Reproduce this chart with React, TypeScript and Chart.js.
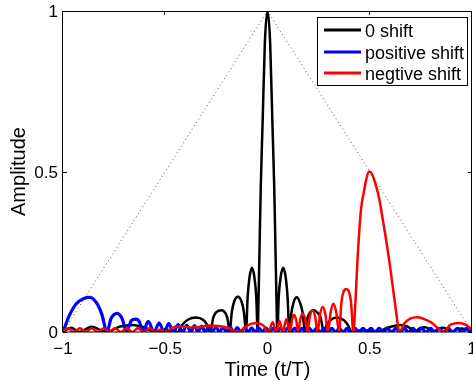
import React, { useEffect, useRef } from 'react';
import { Chart, registerables } from 'chart.js';

Chart.register(...registerables);

const xTicks = [-1, -0.5, 0, 0.5, 1];
const xTickLabels = ['\u22121', '\u22120.5', '0', '0.5', '1'];
const yTicks = [0, 0.5, 1];
const yTickLabels = ['0', '0.5', '1'];
const xTitle = 'Time (t/T)';
const yTitle = 'Amplitude';
const seriesNames = ['0 shift', 'positive shift', 'negtive shift'];
const seriesColors = ['#000000', '#0000ff', '#ff0000'];

const envelopeX = [-1, 0, 1];
const envelopeY = [0, 1, 0];

const zeroShiftX = [
  -1, -0.96, -0.92, -0.86, -0.79, -0.72, -0.66, -0.6, -0.55, -0.5, -0.44,
  -0.42, -0.39, -0.35, -0.315, -0.295, -0.28,
  -0.265, -0.25, -0.225, -0.205, -0.195, -0.185,
  -0.175, -0.163, -0.145, -0.127, -0.115, -0.105,
  -0.097, -0.088, -0.076, -0.064, -0.055, -0.048,
  -0.044, -0.038, -0.033, -0.024, -0.013, 0, 0.013, 0.024, 0.033, 0.038, 0.044,
  0.048, 0.055, 0.064, 0.077, 0.089, 0.098, 0.107,
  0.117, 0.128, 0.143, 0.158, 0.172, 0.183,
  0.195, 0.207, 0.225, 0.245, 0.26, 0.275,
  0.29, 0.31, 0.34, 0.375, 0.395, 0.41,
  0.47, 0.53, 0.59, 0.65, 0.69, 0.72, 0.745, 0.77, 0.79, 0.81, 0.835, 0.86, 0.88, 0.9,
  0.925, 0.95, 0.97, 1,
];
const zeroShiftY = [
  0, 0.013, 0, 0.016, 0, 0.017, 0.022, 0.014, 0, 0.006, 0,
  0.02, 0.038, 0.045, 0.038, 0.022, 0,
  0.045, 0.062, 0.068, 0.058, 0.04, 0,
  0.06, 0.095, 0.11, 0.095, 0.06, 0,
  0.11, 0.17, 0.2, 0.17, 0.11, 0,
  0.1, 0.29, 0.45, 0.65, 0.9, 1, 0.9, 0.65, 0.45, 0.29, 0.1,
  0, 0.11, 0.17, 0.2, 0.17, 0.11, 0,
  0.06, 0.093, 0.108, 0.093, 0.06, 0,
  0.042, 0.06, 0.068, 0.06, 0.045, 0,
  0.022, 0.038, 0.045, 0.036, 0.02, 0,
  0.006, 0, 0.014, 0.022, 0.015, 0, 0.012, 0.015, 0.01, 0, 0.01, 0.013, 0.008, 0,
  0.008, 0.011, 0.008, 0.004,
];

const positiveShiftX = [
  -1, -0.97, -0.935, -0.9, -0.868, -0.835, -0.81, -0.785, -0.765, -0.735, -0.71, -0.69,
  -0.665, -0.645, -0.625, -0.61, -0.583, -0.555, -0.53, -0.505, -0.483, -0.46, -0.437,
  -0.415, -0.395, -0.375, -0.357, -0.34, -0.322, -0.305, -0.288, -0.27, -0.252, -0.235,
  -0.218, -0.2, -0.182, -0.165, -0.148, -0.13, -0.112, -0.095, -0.078, -0.06, -0.043,
  -0.025, -0.008, 0.01, 0.028, 0.045, 0.063, 0.08, 0.098, 0.115, 0.133, 0.15, 0.168,
  0.186, 0.204, 0.222, 0.24, 0.258, 0.277, 0.295, 0.314, 0.332, 0.351, 0.37, 0.389,
  0.408, 0.428, 0.447, 0.467, 0.486, 0.506, 0.526, 0.546, 0.566, 0.587, 0.607, 0.628,
  0.648, 0.669, 0.69, 0.711, 0.732, 0.754, 0.775, 0.797, 0.818, 0.84, 0.862, 0.884,
  0.906, 0.929, 0.951, 0.974, 0.996, 1,
];
const positiveShiftY = [
  0, 0.05, 0.088, 0.104, 0.108, 0.09, 0.055, 0, 0.042, 0.058, 0.04, 0,
  0.036, 0.04, 0.03, 0, 0.033, 0, 0.028, 0, 0.026, 0, 0.023,
  0, 0.021, 0, 0.02, 0, 0.018, 0, 0.017, 0, 0.016, 0,
  0.015, 0, 0.015, 0, 0.014, 0, 0.014, 0, 0.013, 0, 0.013,
  0, 0.013, 0, 0.012, 0, 0.012, 0, 0.012, 0, 0.012, 0, 0.011,
  0, 0.011, 0, 0.011, 0, 0.011, 0, 0.011, 0, 0.011, 0, 0.011,
  0, 0.011, 0, 0.011, 0, 0.011, 0, 0.011, 0, 0.011, 0, 0.011,
  0, 0.011, 0, 0.011, 0, 0.011, 0, 0.011, 0, 0.011, 0, 0.011,
  0, 0.011, 0, 0.011, 0, 0.001,
];

const negativeShiftX = [
  -1, -0.976, -0.947, -0.917, -0.888, -0.86, -0.83, -0.8, -0.773, -0.746, -0.717, -0.688,
  -0.661, -0.634, -0.605, -0.576, -0.547, -0.525, -0.5,
  -0.47, -0.43, -0.36, -0.28, -0.2, -0.14, -0.1, -0.055, -0.02, 0.005,
  0.025, 0.044, 0.058, 0.075, 0.092, 0.11,
  0.12, 0.13, 0.14, 0.15, 0.161, 0.172, 0.184, 0.195,
  0.207, 0.22, 0.233, 0.245, 0.257, 0.27, 0.283, 0.295,
  0.309, 0.322, 0.336, 0.35, 0.362, 0.386, 0.408, 0.42,
  0.428, 0.44, 0.457, 0.47, 0.498, 0.54, 0.556, 0.595, 0.628, 0.645,
  0.67, 0.73, 0.8, 0.865, 0.89, 0.937, 0.97, 1,
];
const negativeShiftY = [
  0.004, 0.012, 0, 0.012, 0, 0.012, 0, 0.012, 0, 0.012, 0, 0.012,
  0, 0.012, 0, 0.012, 0, 0.008, 0,
  0.012, 0.018, 0.014, 0.02, 0.014, 0, 0.02, 0.028, 0.02, 0,
  0.03, 0, 0.035, 0, 0.04, 0,
  0.038, 0.053, 0.038, 0, 0.041, 0.058, 0.041, 0,
  0.048, 0.068, 0.048, 0, 0.055, 0.078, 0.055, 0,
  0.062, 0.088, 0.062, 0, 0.095, 0.134, 0.095, 0,
  0.068, 0.224, 0.38, 0.433, 0.5, 0.433, 0.38, 0.224, 0.068, 0,
  0.028, 0.046, 0.03, 0, 0.02, 0.028, 0.022, 0.008,
];

const toPoints = (xs: number[], ys: number[]) => xs.map((x, i) => ({ x, y: ys[i] }));

const FONT = '"Liberation Sans", Arial, Helvetica, sans-serif';

const framePlugin = {
  id: 'matlabFrame',
  afterDatasetsDraw(chart: any) {
    const { ctx, chartArea: a, scales } = chart;
    const sx = scales.x;
    const sy = scales.y;
    ctx.save();
    ctx.strokeStyle = '#000';
    ctx.lineWidth = 1;
    ctx.beginPath();
    ctx.rect(Math.round(a.left) - 0.5, Math.round(a.top) + 0.5, Math.round(a.right - a.left), Math.round(a.bottom - a.top) - 0.5);
    ctx.stroke();
    const tl = 4;
    ctx.beginPath();
    xTicks.forEach((v) => {
      const px = Math.round(sx.getPixelForValue(v)) - 0.5;
      ctx.moveTo(px, a.bottom);
      ctx.lineTo(px, a.bottom - tl);
      ctx.moveTo(px, a.top);
      ctx.lineTo(px, a.top + tl);
    });
    yTicks.forEach((v) => {
      const py = Math.round(sy.getPixelForValue(v)) + 0.5;
      ctx.moveTo(a.left, py);
      ctx.lineTo(a.left + tl, py);
      ctx.moveTo(a.right, py);
      ctx.lineTo(a.right - tl, py);
    });
    ctx.stroke();

    ctx.fillStyle = '#000';
    ctx.font = `17px ${FONT}`;
    ctx.textAlign = 'center';
    ctx.textBaseline = 'alphabetic';
    xTicks.forEach((v, i) => {
      ctx.fillText(xTickLabels[i], sx.getPixelForValue(v), a.bottom + 22);
    });
    ctx.textAlign = 'right';
    yTicks.forEach((v, i) => {
      ctx.fillText(yTickLabels[i], a.left - 5, sy.getPixelForValue(v) + 6);
    });

    ctx.font = `20px ${FONT}`;
    ctx.textAlign = 'center';
    ctx.fillText(xTitle, (a.left + a.right) / 2, a.bottom + 44);
    ctx.save();
    ctx.translate(25, (a.top + a.bottom) / 2);
    ctx.rotate(-Math.PI / 2);
    ctx.fillText(yTitle, 0, 0);
    ctx.restore();

    // legend
    const lx = 317;
    const ly = 17;
    const lw = 150;
    const lh = 68;
    ctx.fillStyle = '#fff';
    ctx.fillRect(lx, ly, lw, lh);
    ctx.strokeStyle = '#000';
    ctx.lineWidth = 1;
    ctx.strokeRect(lx + 0.5, ly + 0.5, lw, lh);
    ctx.font = `18px ${FONT}`;
    ctx.textAlign = 'left';
    const rows = [30, 52, 73];
    seriesNames.forEach((name, i) => {
      ctx.strokeStyle = seriesColors[i];
      ctx.lineWidth = 3;
      ctx.beginPath();
      ctx.moveTo(324, rows[i]);
      ctx.lineTo(361, rows[i]);
      ctx.stroke();
      ctx.fillStyle = '#000';
      ctx.fillText(name, 365, rows[i] + 6.5);
    });
    ctx.restore();
  },
};

export default function App() {
  const ref = useRef<HTMLCanvasElement | null>(null);
  useEffect(() => {
    if (!ref.current) return;
    const chart = new Chart(ref.current, {
      type: 'line',
      data: {
        datasets: [
          {
            label: 'envelope',
            data: toPoints(envelopeX, envelopeY),
            borderColor: '#555555',
            borderWidth: 1,
            borderDash: [1, 3],
            pointRadius: 0,
            tension: 0,
            order: 3,
          },
          {
            label: seriesNames[0],
            data: toPoints(zeroShiftX, zeroShiftY),
            borderColor: seriesColors[0],
            borderWidth: 2.5,
            pointRadius: 0,
            cubicInterpolationMode: 'monotone',
            order: 2,
          },
          {
            label: seriesNames[1],
            data: toPoints(positiveShiftX, positiveShiftY),
            borderColor: seriesColors[1],
            borderWidth: 3.2,
            pointRadius: 0,
            cubicInterpolationMode: 'monotone',
            order: 1,
          },
          {
            label: seriesNames[2],
            data: toPoints(negativeShiftX, negativeShiftY),
            borderColor: seriesColors[2],
            borderWidth: 2.5,
            pointRadius: 0,
            cubicInterpolationMode: 'monotone',
            order: 0,
          },
        ],
      } as any,
      options: {
        animation: false,
        responsive: false,
        maintainAspectRatio: false,
        layout: { padding: { top: 11, right: 1, left: 0, bottom: 0 } },
        plugins: { legend: { display: false }, tooltip: { enabled: false } },
        scales: {
          x: {
            type: 'linear',
            min: -1,
            max: 1,
            grid: { display: false },
            border: { display: false },
            ticks: { display: false },
            afterFit: (s: any) => {
              s.height = 49;
              s.paddingLeft = 0;
              s.paddingRight = 0;
            },
          },
          y: {
            type: 'linear',
            min: 0,
            max: 1,
            grid: { display: false },
            border: { display: false },
            ticks: { display: false },
            afterFit: (s: any) => {
              s.width = 63;
              s.paddingTop = 0;
              s.paddingBottom = 0;
            },
          },
        },
      } as any,
      plugins: [framePlugin],
    });
    return () => chart.destroy();
  }, []);
  return (
    <div style={{ position: 'absolute', left: 0, top: 0, width: 473, height: 381, background: '#fff' }}>
      <canvas ref={ref} width={473} height={381} style={{ display: 'block', width: 473, height: 381 }} />
    </div>
  );
}
